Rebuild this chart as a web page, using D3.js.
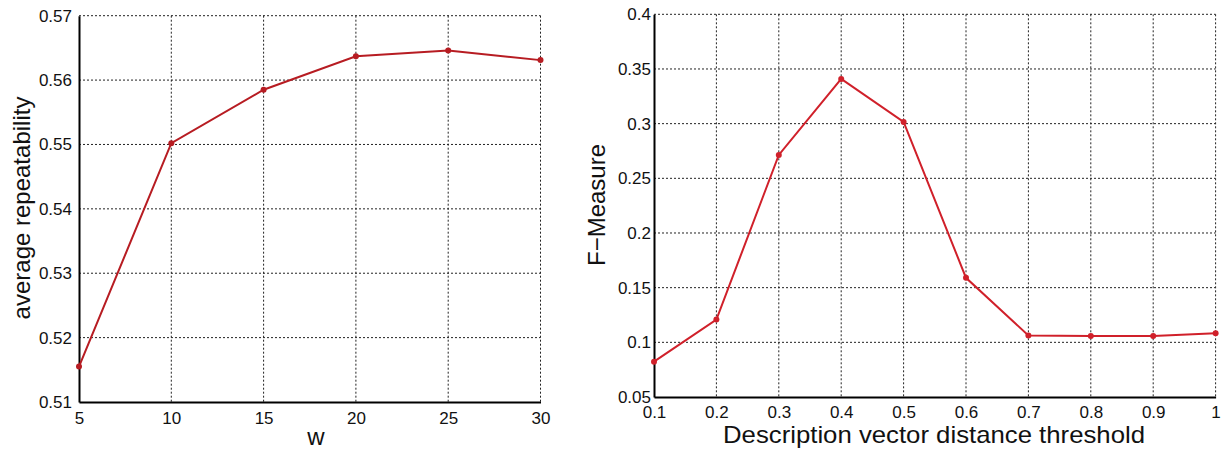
<!DOCTYPE html>
<html>
<head>
<meta charset="utf-8">
<script src="https://cdn.jsdelivr.net/npm/d3@7"></script>
<style>
  body { margin: 0; background: #fff; }
  svg { font-family: "Liberation Sans", Arial, sans-serif; }
</style>
</head>
<body>
<div id="chart"></div>
<script>
// left chart data
const wValues = [5, 10, 15, 20, 25, 30];
const repeatability = [0.5155, 0.5502, 0.5585, 0.5637, 0.5646, 0.5631];
const leftXTicks = [5, 10, 15, 20, 25, 30];
const leftYTicks = [0.51, 0.52, 0.53, 0.54, 0.55, 0.56, 0.57];

// right chart data
const thresholds = [0.1, 0.2, 0.3, 0.4, 0.5, 0.6, 0.7, 0.8, 0.9, 1.0];
const fMeasure = [0.0823, 0.1208, 0.2714, 0.3409, 0.3016, 0.1590, 0.1063, 0.1059, 0.1059, 0.1082];
const rightXTicks = [0.1, 0.2, 0.3, 0.4, 0.5, 0.6, 0.7, 0.8, 0.9, 1.0];
const rightYTicks = [0.05, 0.1, 0.15, 0.2, 0.25, 0.3, 0.35, 0.4];

const width = 1221, height = 449;

const svg = d3.select("#chart")
  .append("svg")
  .attr("width", width)
  .attr("height", height);

function drawChart(opts) {
  const x = d3.scaleLinear().domain(opts.xDomain).range([opts.left, opts.right]);
  const y = d3.scaleLinear().domain(opts.yDomain).range([opts.bottom, opts.top]);
  const g = svg.append("g");

  // dotted grid
  g.append("g").selectAll("line")
    .data(opts.xTicks.slice(1))
    .enter().append("line")
      .attr("x1", (d) => x(d)).attr("x2", (d) => x(d))
      .attr("y1", opts.top).attr("y2", opts.bottom)
      .style("stroke", "#222").style("stroke-width", 1)
      .style("stroke-dasharray", "2,2");
  g.append("g").selectAll("line")
    .data(opts.yTicks.slice(1))
    .enter().append("line")
      .attr("x1", opts.left).attr("x2", opts.right)
      .attr("y1", (d) => y(d)).attr("y2", (d) => y(d))
      .style("stroke", "#222").style("stroke-width", 1)
      .style("stroke-dasharray", "2,2");

  // axes
  const xAxis = g.append("g")
    .attr("transform", `translate(0,${opts.bottom})`)
    .call(d3.axisBottom(x).tickValues(opts.xTicks).tickFormat(opts.xFormat)
      .tickSizeInner(0).tickSizeOuter(0).tickPadding(opts.xPad));
  const yAxis = g.append("g")
    .attr("transform", `translate(${opts.left},0)`)
    .call(d3.axisLeft(y).tickValues(opts.yTicks).tickFormat(opts.yFormat)
      .tickSizeInner(0).tickSizeOuter(0).tickPadding(opts.yPad));
  [xAxis, yAxis].forEach((a) => {
    a.select(".domain").style("stroke", "#000").style("stroke-width", 2);
    a.selectAll("text").attr("font-size", "17px").attr("fill", "#111")
      .attr("font-family", "Liberation Sans, Arial, sans-serif");
  });

  // line + markers
  const pts = opts.xs.map((d, i) => [d, opts.ys[i]]);
  g.append("path")
    .datum(pts)
    .attr("d", d3.line().x((d) => x(d[0])).y((d) => y(d[1])))
    .style("fill", "none")
    .style("stroke", opts.color)
    .style("stroke-width", 2);
  g.append("g").selectAll("circle")
    .data(pts)
    .enter().append("circle")
      .attr("cx", (d) => x(d[0]))
      .attr("cy", (d) => y(d[1]))
      .attr("r", 3)
      .style("fill", opts.color);

  // axis titles
  const xl = g.append("text")
    .attr("x", opts.xLabelX).attr("y", opts.xLabelY)
    .attr("text-anchor", "middle")
    .attr("font-size", "24px")
    .attr("fill", "#111")
    .text(opts.xLabel);
  if (opts.xLabelLen) {
    xl.attr("textLength", opts.xLabelLen).attr("lengthAdjust", "spacingAndGlyphs");
  }
  g.append("text")
    .attr("transform", `translate(${opts.yLabelX},${opts.yLabelY}) rotate(-90)`)
    .attr("text-anchor", "middle")
    .attr("font-size", "24px")
    .attr("fill", "#111")
    .text(opts.yLabel);
}

drawChart({
  xs: wValues, ys: repeatability,
  xDomain: [5, 30], yDomain: [0.51, 0.57],
  left: 79, right: 540.5, top: 15.7, bottom: 402,
  xTicks: leftXTicks, yTicks: leftYTicks,
  xFormat: d3.format("d"), yFormat: d3.format(".2f"),
  xPad: 10, yPad: 7,
  color: "#b71c22",
  xLabel: "w", xLabelX: 316, xLabelY: 445,
  yLabel: "average repeatability", yLabelX: 30, yLabelY: 208
});

drawChart({
  xs: thresholds, ys: fMeasure,
  xDomain: [0.1, 1.0], yDomain: [0.05, 0.4],
  left: 654, right: 1215.6, top: 14.3, bottom: 397,
  xTicks: rightXTicks, yTicks: rightYTicks,
  xFormat: d3.format("~g"), yFormat: d3.format("~g"),
  xPad: 9, yPad: 3,
  color: "#d0202a",
  xLabel: "Description vector distance threshold", xLabelX: 934, xLabelY: 443, xLabelLen: 422,
  yLabel: "F\u2212Measure", yLabelX: 605, yLabelY: 205
});
</script>
</body>
</html>
